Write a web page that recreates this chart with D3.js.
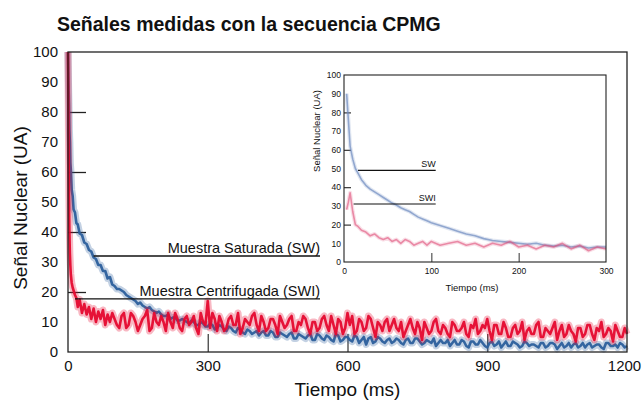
<!DOCTYPE html>
<html>
<head>
<meta charset="utf-8">
<script src="https://cdn.jsdelivr.net/npm/d3@7"></script>
<style>
  body { margin: 0; background: #fff; }
  text { font-family: "Liberation Sans", Arial, sans-serif; fill: #111; }
</style>
</head>
<body>
<svg id="chart" width="642" height="408"></svg>
<script>
// sample times (ms)
const earlyTimes = [0, 1, 2, 3, 4, 5, 6, 8, 10, 12, 15, 18, 21, 25, 30, 35, 40, 45, 50, 55, 60, 65, 70, 75, 80, 85, 90, 95];
const lateTimes = d3.range(100, 1201, 10);
const midTimes = d3.range(105, 1200, 10);

// Muestra Saturada (SW)
const swEarly = [100, 90, 83, 74, 70, 63, 61, 54, 52, 47.5, 46.5, 43, 42.5, 39.5, 39, 36.5, 36, 34, 33.5, 31.5,
                 31, 29, 29, 27, 27, 24.5, 25, 22.5];
const swLate = [22, 21, 20, 18.5, 17.5, 16, 15.5, 14.5, 14, 13,
                12.5, 12, 11, 11.5, 10.5, 10.5, 9.5, 10, 9, 9.5,
                8.5, 9, 8, 8.5, 7, 8, 6.5, 7.5, 6, 7,
                6.5, 5.5, 7, 5.5, 6.5, 5, 6, 5, 6.5, 4.5,
                5.5, 4.5, 6, 4, 5.5, 4, 5, 3.5, 5.5, 4,
                5, 3.5, 5, 4, 2.5, 5, 3.5, 4.5, 3, 4.5,
                3.5, 4, 2.5, 4.5, 3, 4.5, 2.5, 4, 3, 2,
                4, 3, 2, 4, 2.5, 3.5, 1.5, 3.5, 2.5, 3,
                1.5, 3.5, 2.5, 1.5, 3.5, 2, 3, 1.5, 3.5, 2,
                2.5, 1.5, 3, 2, 3, 1, 3, 2, 1.5, 3,
                2, 1.5, 3, 2, 2.5, 1, 3, 2, 1.5, 2.5,
                2];
const swMid = [21, 20.5, 19, 18, 17, 16.5, 15, 15, 13.5, 13.5,
               12, 12.5, 11.5, 10.5, 11, 10, 10.5, 9, 10, 8.5,
               9.5, 7.5, 9, 7.5, 8.5, 7, 8, 6.5, 7.5, 6,
               7, 6.5, 5.5, 7, 5, 6.5, 5.5, 6, 4.5, 6,
               5, 5.5, 4, 6, 4.5, 5.5, 4, 6, 3.5, 5,
               4, 5.5, 3, 5, 4.5, 3, 5, 3.5, 4, 3,
               4.5, 3, 4, 3, 4.5, 3.5, 3, 3.5, 4.5, 3,
               3, 4, 3, 2.5, 4, 2, 3.5, 2.5, 4, 2,
               3, 2, 3.5, 2.5, 2, 3.5, 2.5, 2, 3, 2.5,
               2, 3, 1.5, 3, 2.5, 2, 1.5, 3, 2.5, 1.5,
               3, 2.5, 1.5, 2.5, 1.5, 3, 2, 2.5, 3, 1.5];

// Muestra Centrifugada (SWI)
const swiEarly = [100, 72, 52, 40, 33, 29, 26, 23, 21.5, 20.5, 19, 18, 15, 17.5, 13, 16, 12.5, 15, 11, 14.5,
                  10, 13.5, 11, 14, 9, 12.5, 10, 13];
const swiLate = [11, 8, 13, 9, 12, 7, 11, 14, 8, 10,
                 12, 7, 10, 13, 8, 11, 9, 12, 6, 10,
                 17, 13, 7, 10, 8, 12, 9, 6, 11, 9,
                 13, 7, 10, 8, 11, 6, 10, 9, 12, 7,
                 9, 11, 6, 10, 8, 12, 7, 9, 11, 6,
                 13, 12, 7, 10, 8, 11, 5, 9, 10, 7,
                 11, 7, 5, 9, 8, 10, 4, 8, 7, 11,
                 6, 8, 5, 9, 7, 10, 5, 8, 6, 9,
                 11, 4, 9, 6, 8, 5, 9, 7, 4, 8,
                 6, 10, 5, 7, 8, 4, 9, 6, 7, 3.5,
                 8, 6, 9, 4, 7, 5, 8, 3.5, 7, 5,
                 6];
const swiMid = [9, 12, 8, 13, 10, 9, 12, 7, 13, 9,
                10, 13, 8, 11, 7, 12, 10, 8, 13, 9,
                8, 11, 12, 7, 11, 9, 13, 8, 10, 12,
                9, 12, 7, 11, 9, 12, 8, 11, 7, 10,
                12, 8, 10, 7, 11, 9, 12, 6, 10, 8,
                9, 6, 11, 7, 12, 8, 10, 7, 11, 9,
                8, 10, 7, 11, 6, 8, 10, 6, 10, 7,
                9, 6, 10, 7, 8, 6, 9, 11, 7, 8,
                7, 9, 6, 10, 5, 8, 6, 10, 7, 6,
                9, 5, 8, 6, 10, 7, 5, 9, 6, 8,
                5, 9, 6, 8, 10, 6, 7, 9, 5, 8];

// inset (0-300 ms)
const insetTimes = [3, 5, 7, 10, 13, 16, 20, 25, 30, 35, 40, 45, 50, 55, 60, 65, 70, 75, 80, 85, 90, 95,
                    100, 110, 120, 130, 140, 150, 160, 170, 180, 190, 200, 210, 220, 230, 240, 250, 260, 270, 280, 290, 300];
const insetSW = [90, 76, 62, 55, 50, 47.5, 44, 41, 39, 37.5, 36, 34.5, 33, 31.5, 30.5, 29, 28, 27, 25.5, 24, 23, 22,
                 21, 19.5, 18, 16.5, 15, 14, 12.5, 11.5, 11, 10.5, 10, 9.5, 10, 9, 8.5, 9, 8, 8.5, 7.5, 8, 8];
const insetSWI = [28, 32, 37, 27, 20, 19, 17, 16, 14, 15, 13, 12, 13, 11, 12, 10, 12, 11, 9, 10, 11, 9,
                  11, 9, 10, 11, 9, 10, 8, 10, 9, 11, 8, 9, 7, 9, 8, 10, 7, 9, 6, 8, 7];

const yTicks = [0, 10, 20, 30, 40, 50, 60, 70, 80, 90, 100];
const xTicks = [0, 300, 600, 900, 1200];
const insetXTicks = [0, 100, 200, 300];

const mainNotes = ['Muestra Saturada (SW)', 'Muestra Centrifugada (SWI)'];
const mainNoteLevel = [32, 17.7];
const mainNoteFrom = [55, 15];
const insetNotes = ['SW', 'SWI'];
const insetNoteLevel = [49, 31];
const insetNoteFrom = [16, 11];

function toPoints(times, values){
  return times.map((t, i) => ({t: t, v: values[i]}));
}
const swData = toPoints(earlyTimes, swEarly)
  .concat(toPoints(lateTimes, swLate), toPoints(midTimes, swMid))
  .sort((a, b) => a.t - b.t);
const swiData = toPoints(earlyTimes, swiEarly)
  .concat(toPoints(lateTimes, swiLate), toPoints(midTimes, swiMid))
  .sort((a, b) => a.t - b.t);
const insetSWData = toPoints(insetTimes, insetSW);
const insetSWIData = toPoints(insetTimes, insetSWI);

const svg = d3.select('#chart');

function drawPanel(g, opt){
  let x = d3.scaleLinear().domain(opt.xDomain).range([opt.x0, opt.x1]);
  let y = d3.scaleLinear().domain([0, 100]).range([opt.y0, opt.y1]);

  g.append('rect')
   .attr('x', opt.x0).attr('y', opt.y1)
   .attr('width', opt.x1 - opt.x0).attr('height', opt.y0 - opt.y1)
   .attr('fill', '#fff').attr('stroke', 'none');

  // inner ticks
  g.append('g')
   .attr('transform', `translate(${opt.x0},0)`)
   .call(d3.axisRight(y).tickValues([20, 40, 60, 80]).tickSize(opt.inTick).tickFormat(''))
   .call(a => a.select('.domain').remove())
   .selectAll('line').attr('stroke', '#222').attr('stroke-width', opt.lw);
  g.append('g')
   .attr('transform', `translate(0,${opt.y0})`)
   .call(d3.axisTop(x).tickValues(opt.inXTicks).tickSize(opt.inTickX).tickFormat(''))
   .call(a => a.select('.domain').remove())
   .selectAll('line').attr('stroke', '#444').attr('stroke-width', opt.lw);

  let line = d3.line().x(d => x(d.t)).y(d => y(d.v));
  opt.series.forEach(s => {
    g.append('path')
     .attr('d', line(s.data))
     .attr('fill', 'none')
     .attr('stroke', s.color)
     .attr('stroke-width', s.wide)
     .attr('stroke-opacity', s.op * 0.3)
     .attr('stroke-linejoin', 'round');
    g.append('path')
     .attr('d', line(s.data))
     .attr('fill', 'none')
     .attr('stroke', s.color)
     .attr('stroke-width', s.thin)
     .attr('stroke-opacity', s.op)
     .attr('stroke-linejoin', 'round');
  });

  // frame
  g.append('rect')
   .attr('x', opt.x0).attr('y', opt.y1)
   .attr('width', opt.x1 - opt.x0).attr('height', opt.y0 - opt.y1)
   .attr('fill', 'none').attr('stroke', '#222').attr('stroke-width', opt.lw);

  // tick labels
  g.append('g')
   .attr('transform', `translate(${opt.x0},0)`)
   .call(d3.axisLeft(y).tickValues(yTicks).tickSize(0).tickPadding(opt.pad))
   .call(a => a.select('.domain').remove())
   .selectAll('text').attr('font-size', opt.fs).attr('fill', '#111');
  g.append('g')
   .attr('transform', `translate(0,${opt.y0})`)
   .call(d3.axisBottom(x).tickValues(opt.xTicks).tickSize(0).tickPadding(opt.padX).tickFormat(d => d))
   .call(a => a.select('.domain').remove())
   .selectAll('text')
   .attr('font-size', opt.fs).attr('fill', '#111')
   .attr('dx', (d, i, n) => i === n.length - 1 ? -opt.lastShift : 0);

  // annotation lines
  opt.notes.forEach((n, i) => {
    g.append('line')
     .attr('x1', x(opt.noteFrom[i])).attr('x2', x(opt.noteTo))
     .attr('y1', y(opt.noteLevel[i])).attr('y2', y(opt.noteLevel[i]))
     .attr('stroke', '#111').attr('stroke-width', opt.lw);
    g.append('text')
     .attr('x', x(opt.noteTo)).attr('y', y(opt.noteLevel[i]) - 3)
     .attr('text-anchor', 'end')
     .attr('font-size', opt.noteFs)
     .text(n);
  });

  g.append('text')
   .attr('x', (opt.x0 + opt.x1) / 2 + opt.xlOff).attr('y', opt.xlY)
   .attr('text-anchor', 'middle').attr('font-size', opt.labFs)
   .text('Tiempo (ms)');
  g.append('text')
   .attr('transform', `translate(${opt.ylX},${opt.ylY}) rotate(-90)`)
   .attr('text-anchor', 'middle').attr('font-size', opt.labFs)
   .text('Señal Nuclear (UA)');
}

svg.append('text')
   .attr('x', 57).attr('y', 31)
   .attr('font-size', 19.5).attr('font-weight', 'bold')
   .text('Señales medidas con la secuencia CPMG');

drawPanel(svg.append('g'), {
  xDomain: [0, 1200], x0: 68, x1: 627, y0: 352, y1: 52,
  xTicks: xTicks, inXTicks: [300, 600, 900],
  inTick: 18, inTickX: 18, lw: 1.3, fs: 15, pad: 10, padX: 8, lastShift: 3,
  series: [
    {data: swData, color: '#2c5f9c', wide: 7, thin: 2.6, op: 0.95},
    {data: swiData, color: '#e5082f', wide: 7, thin: 2.6, op: 0.95}
  ],
  notes: mainNotes, noteLevel: mainNoteLevel, noteFrom: mainNoteFrom, noteTo: 541, noteFs: 14.5,
  labFs: 19, xlOff: 0, xlY: 396, ylX: 27, ylY: 208
});

drawPanel(svg.append('g'), {
  xDomain: [0, 300], x0: 344, x1: 606, y0: 262, y1: 75,
  xTicks: insetXTicks, inXTicks: [100, 200],
  inTick: 7, inTickX: 9, lw: 1.1, fs: 8.5, pad: 3, padX: 6, lastShift: 0,
  series: [
    {data: insetSWData, color: '#6f8cc0', wide: 4, thin: 1.6, op: 0.7},
    {data: insetSWIData, color: '#e0507a', wide: 4, thin: 1.6, op: 0.6}
  ],
  notes: insetNotes, noteLevel: insetNoteLevel, noteFrom: insetNoteFrom, noteTo: 105, noteFs: 9,
  labFs: 9.5, xlOff: -3, xlY: 291, ylX: 320, ylY: 131
});
</script>
</body>
</html>
